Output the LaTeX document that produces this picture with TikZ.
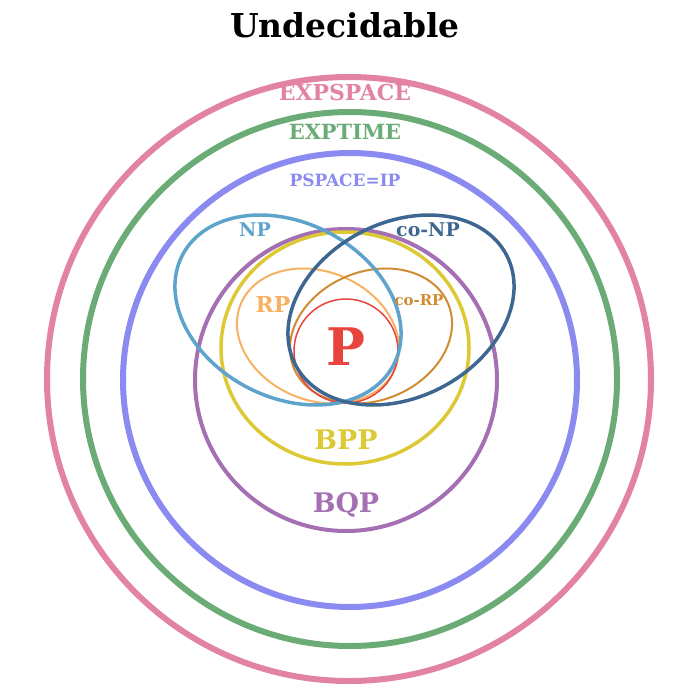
\documentclass[tikz,border=0pt]{standalone}
\usepackage{fontspec}
\setmainfont{DejaVu Serif}
\definecolor{cpink}{HTML}{E283A3}
\definecolor{cgreen}{HTML}{6AAB76}
\definecolor{cblue}{HTML}{8A8AF0}
\definecolor{cpurple}{HTML}{A46FB3}
\definecolor{cyellow}{HTML}{DCC935}
\definecolor{cnp}{HTML}{5DA3CC}
\definecolor{ccnp}{HTML}{3D6790}
\definecolor{crp}{HTML}{F6B163}
\definecolor{ccrp}{HTML}{D08B33}
\definecolor{cp}{HTML}{E8443E}
\begin{document}
\begin{tikzpicture}[x=1bp,y=-1bp,
  lbl/.style={font=\bfseries, inner sep=0pt},
  ring/.style={line width=6bp}]
\useasboundingbox (0,0) rectangle (680,695);
% outer rings
\draw[ring, cpink] (349,379) circle[radius=302];
\draw[ring, cgreen] (350,379) circle[radius=267];
\draw[ring, cblue] (350,380) circle[radius=227];
% inner classes
\draw[line width=4bp, cpurple] (346,380) circle[radius=151];
\draw[line width=3.5bp, cyellow] (345,348) ellipse[x radius=124, y radius=116];
\draw[line width=2bp, crp] (318,336) ellipse[x radius=83.6, y radius=64.3, rotate=-22.6];
\draw[line width=2bp, ccrp] (371,336) ellipse[x radius=83.6, y radius=64.3, rotate=22.6];
\draw[line width=1.5bp, cp] (346,351) circle[radius=52];
\draw[line width=3.5bp, cnp] (288,310) ellipse[x radius=119, y radius=87.4, rotate=-27.4];
\draw[line width=3.5bp, ccnp] (401,310) ellipse[x radius=119, y radius=87.4, rotate=27.4];
% labels
\node[lbl, font=\bfseries\fontsize{33}{33}\selectfont, text=black] (undec) at (345,25) {Undecidable};
\node[lbl, font=\bfseries\fontsize{22}{22}\selectfont, text=cpink] (expspace) at (345,93) {EXPSPACE};
\node[lbl, font=\bfseries\fontsize{21}{21}\selectfont, text=cgreen] (exptime) at (345,132) {EXPTIME};
\node[lbl, font=\bfseries\fontsize{17}{17}\selectfont, text=cblue] (pspace) at (345,180) {PSPACE=IP};
\node[lbl, font=\bfseries\fontsize{19}{19}\selectfont, text=cnp] (np) at (255,230) {NP};
\node[lbl, font=\bfseries\fontsize{19}{19}\selectfont, text=ccnp] (conp) at (428,230) {co-NP};
\node[lbl, font=\bfseries\fontsize{22}{22}\selectfont, text=crp] (rp) at (273,305) {RP};
\node[lbl, font=\bfseries\fontsize{15}{15}\selectfont, text=ccrp] (corp) at (419,300) {co-RP};
\node[lbl, font=\bfseries\fontsize{52}{52}\selectfont, text=cp] (p) at (346,347) {P};
\node[lbl, font=\bfseries\fontsize{27}{27}\selectfont, text=cyellow] (bpp) at (346,440) {BPP};
\node[lbl, font=\bfseries\fontsize{27}{27}\selectfont, text=cpurple] (bqp) at (346,505) {BQP};
\end{tikzpicture}
\end{document}
